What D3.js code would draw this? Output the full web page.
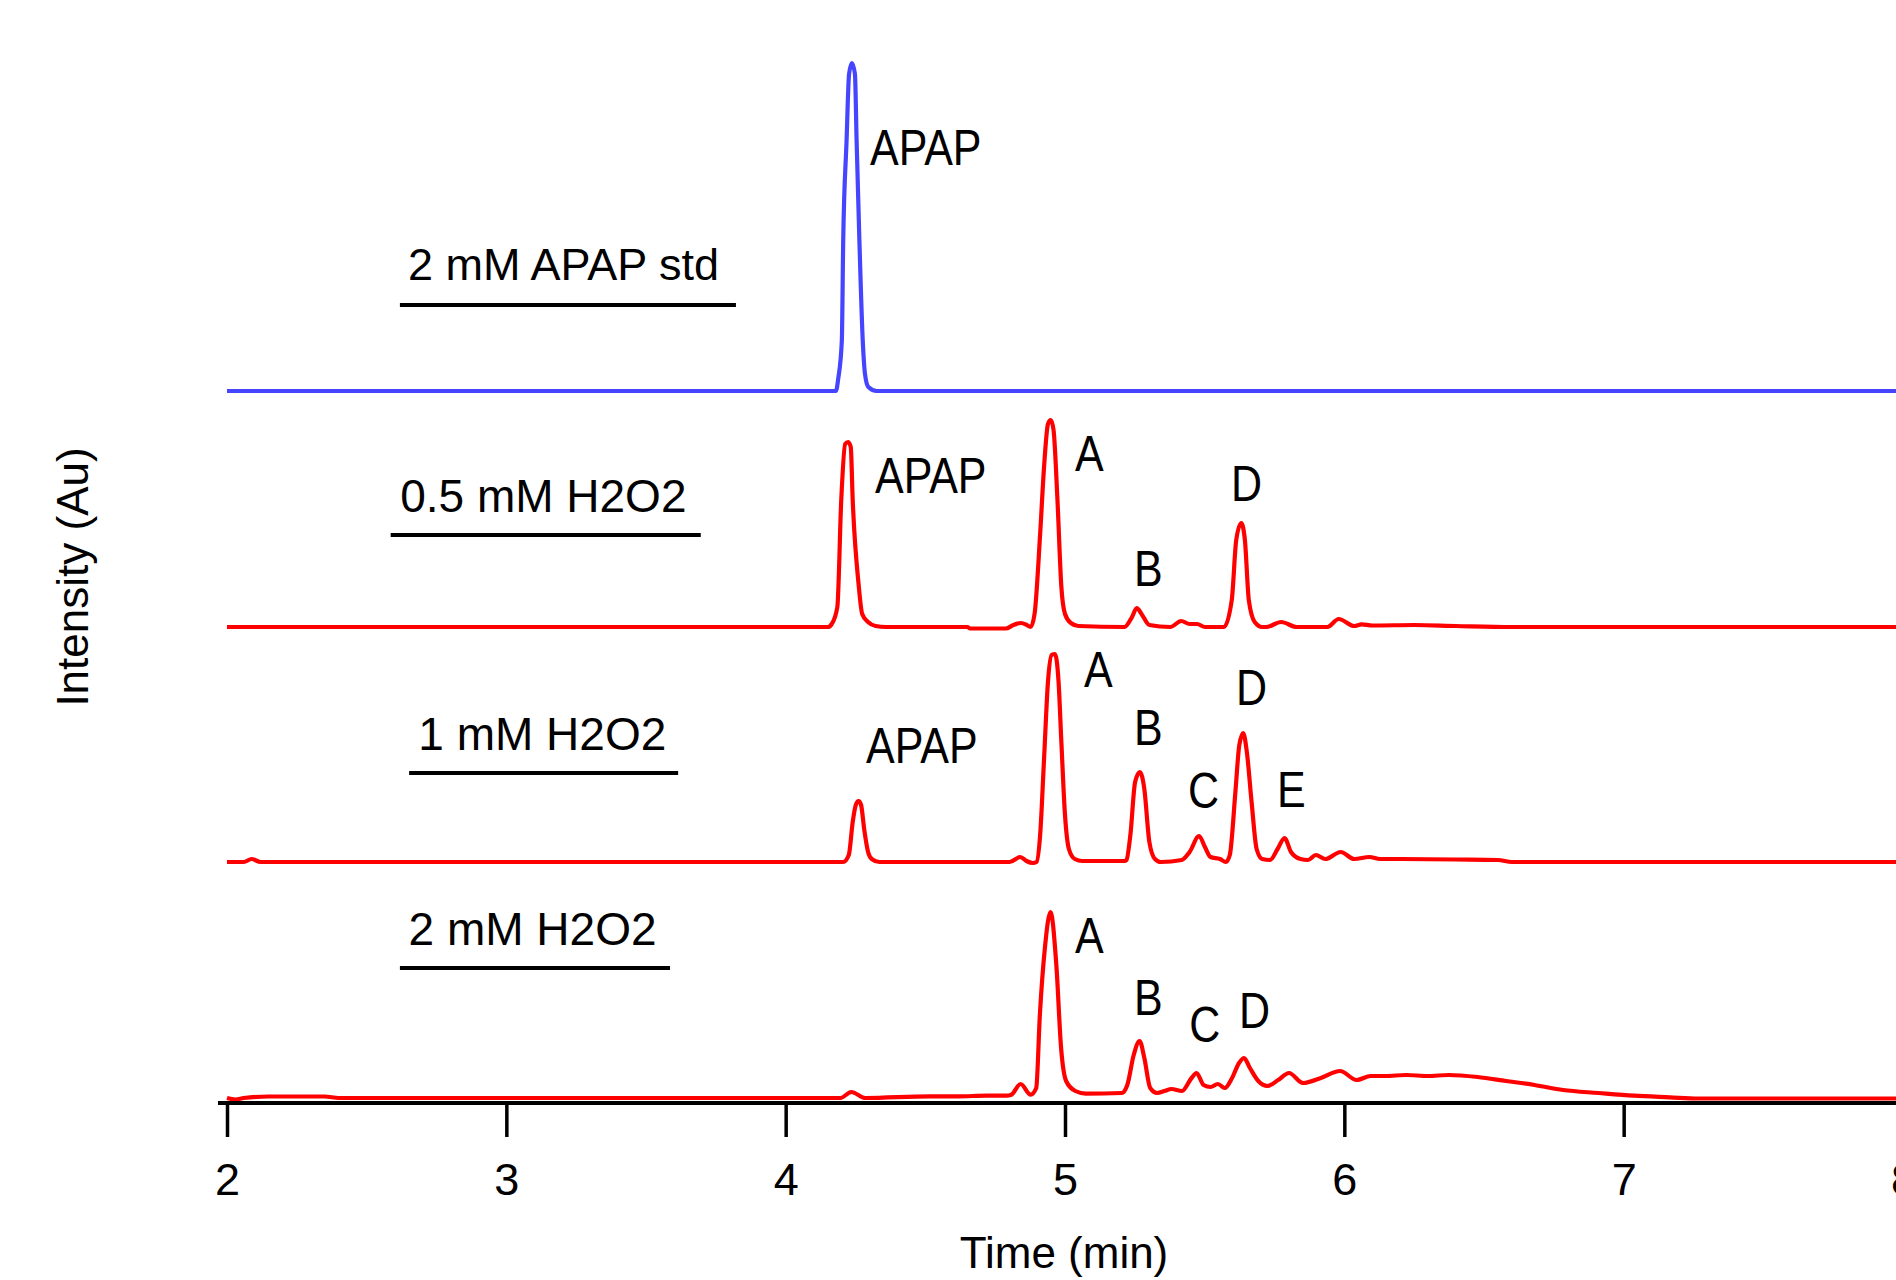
<!DOCTYPE html>
<html>
<head>
<meta charset="utf-8">
<script src="https://cdn.jsdelivr.net/npm/d3@7"></script>
<style>
  body { margin: 0; background: #fff; }
  svg { display: block; font-family: "Liberation Sans", Arial, sans-serif; }
</style>
</head>
<body>
<svg id="chart" width="1896" height="1280"></svg>
<script>
// time axis
const timeTicks = [2, 3, 4, 5, 6, 7, 8];

// chromatograms: [time (min), intensity above own baseline (Au)]
const stdTrace = [[2.0,0],[4.180,0],[4.188,12],[4.201,50],[4.206,150],[4.218,250],[4.227,317],[4.237,328],[4.248,317],[4.254,250],[4.264,150],[4.276,50],[4.284,17],[4.296,4],[4.326,0],[8.1,0]];

const h2o2_05 = [[2.0,0],[4.151,0],[4.165,3],[4.185,20],[4.199,127],[4.213,183],[4.224,185],[4.233,180],[4.240,127],[4.261,43],[4.274,13],[4.295,5],[4.322,1],[4.36,0],[4.651,0],[4.660,-1.5],[4.788,-1.5],[4.815,2],[4.843,4],[4.863,2],[4.877,0],[4.891,13],[4.911,93],[4.925,160],[4.939,203],[4.949,207],[4.959,197],[4.973,127],[4.987,40],[5.000,13],[5.021,4],[5.048,1],[5.213,0],[5.240,10],[5.257,19],[5.274,13],[5.302,2],[5.377,0],[5.416,6],[5.446,3],[5.473,3],[5.501,0],[5.569,0],[5.597,27],[5.613,87],[5.631,104],[5.644,87],[5.658,27],[5.679,5],[5.706,0],[5.720,0],[5.774,5],[5.829,0],[5.939,0],[5.980,8],[6.035,1],[6.062,2.7],[6.1,1.5],[6.25,2],[6.4,1],[6.6,0],[8.1,0]];

const h2o2_1 = [[2.0,0],[2.06,0],[2.088,3],[2.12,0],[4.206,0],[4.226,7],[4.240,40],[4.251,57],[4.261,61],[4.270,57],[4.281,33],[4.295,10],[4.308,3],[4.336,0],[4.802,0],[4.840,5],[4.862,1],[4.885,-1],[4.898,0],[4.911,27],[4.925,103],[4.939,180],[4.952,207],[4.964,208],[4.977,180],[4.987,120],[5.000,47],[5.014,13],[5.035,3],[5.062,1],[5.213,1],[5.220,2],[5.234,27],[5.251,80],[5.268,90],[5.284,73],[5.302,20],[5.322,3],[5.343,0],[5.418,2],[5.446,10],[5.480,26],[5.501,15],[5.521,5],[5.555,3],[5.576,0],[5.590,7],[5.610,70],[5.624,117],[5.638,129],[5.651,110],[5.668,60],[5.686,13],[5.706,3],[5.734,2],[5.761,13],[5.786,24],[5.809,10],[5.843,3],[5.870,2],[5.898,7],[5.932,3],[5.987,10],[6.035,3],[6.090,5],[6.128,3],[6.2,3],[6.4,2.5],[6.55,2],[6.6,0],[8.1,0]];

const h2o2_2 = [[2.0,0],[2.03,-1.5],[2.06,0],[2.15,1.5],[2.35,1.5],[2.4,0],[4.196,0],[4.235,6],[4.285,0],[4.515,1.7],[4.617,1.7],[4.719,2.3],[4.790,2.3],[4.808,3.3],[4.841,14],[4.877,3.3],[4.897,10],[4.910,83],[4.928,150],[4.948,186],[4.969,133],[4.986,50],[5.004,17],[5.037,7],[5.075,4.3],[5.203,5],[5.223,13],[5.246,43],[5.267,57],[5.284,40],[5.305,10],[5.330,5],[5.356,7],[5.381,9],[5.419,7],[5.453,20],[5.471,25],[5.496,13],[5.521,11],[5.547,14],[5.572,10],[5.598,20],[5.623,35],[5.641,40],[5.662,30],[5.692,17],[5.725,12],[5.763,18],[5.802,25],[5.852,15],[5.916,20],[5.985,27],[6.044,18],[6.094,22],[6.146,22],[6.222,23],[6.299,22],[6.375,23],[6.477,21],[6.579,17],[6.681,13],[6.783,8],[6.910,5],[7.037,2.3],[7.165,0.7],[7.267,-0.5],[8.1,-0.5]];

const sampleNames = ["2 mM APAP std", "0.5 mM H2O2", "1 mM H2O2", "2 mM H2O2"];
const sampleTraces = [stdTrace, h2o2_05, h2o2_1, h2o2_2];
const sampleOffsets = [712, 476, 241, 5];
const sampleColors = ["#4545ff", "#ff0000", "#ff0000", "#ff0000"];

// sample name labels: [time at text start, intensity of baseline], underline [t0, t1, intensity]
const nameLabelPos = [[2.648, 823], [2.620, 591], [2.685, 353], [2.650, 158]];
const nameUnderline = [[2.619, 3.822, 798], [2.586, 3.696, 568], [2.652, 3.615, 330], [2.619, 3.586, 135]];
const nameFontSize = [45, 46, 46, 46];

// peak labels: [text, time, absolute intensity]
const peakLabels = [
  ["APAP", 4.302, 938],
  ["APAP", 4.320, 610], ["A", 5.036, 632], ["B", 5.247, 517], ["D", 5.594, 602],
  ["APAP", 4.288, 340], ["A", 5.068, 416], ["B", 5.247, 358], ["C", 5.440, 295], ["D", 5.612, 398], ["E", 5.759, 296],
  ["A", 5.036, 150], ["B", 5.247, 88], ["C", 5.445, 61], ["D", 5.623, 75]
];

const width = 1896, height = 1280;
const svg = d3.select("#chart");

const x = d3.scaleLinear().domain([2, 8]).range([227, 1903]);
const y = d3.scaleLinear().domain([0, 1100]).range([1103, 3]);

// traces
sampleTraces.forEach((trace, i) => {
  const line = d3.line()
    .x(d => x(d[0]))
    .y(d => y(d[1] + sampleOffsets[i]))
    .curve(d3.curveMonotoneX);
  svg.append("path")
    .datum(trace)
    .attr("d", line)
    .attr("fill", "none")
    .attr("stroke", sampleColors[i])
    .attr("stroke-width", 4.2)
    .attr("stroke-linejoin", "round");
});

// sample names with underline
sampleNames.forEach((name, i) => {
  svg.append("text")
    .attr("x", x(nameLabelPos[i][0]))
    .attr("y", y(nameLabelPos[i][1]))
    .attr("font-size", nameFontSize[i])
    .attr("fill", "#000")
    .text(name);
  svg.append("line")
    .attr("x1", x(nameUnderline[i][0]))
    .attr("x2", x(nameUnderline[i][1]))
    .attr("y1", y(nameUnderline[i][2]))
    .attr("y2", y(nameUnderline[i][2]))
    .attr("stroke", "#000")
    .attr("stroke-width", 4);
});

// peak labels (slightly tall lettering)
peakLabels.forEach(p => {
  svg.append("text")
    .attr("transform", `translate(${x(p[1])},${y(p[2])}) scale(1,1.17)`)
    .attr("font-size", 43)
    .attr("fill", "#000")
    .text(p[0]);
});

// x axis
const axis = svg.append("g")
  .attr("transform", `translate(0,${y(0)})`)
  .call(d3.axisBottom(x).tickValues(timeTicks).tickFormat(d3.format("d"))
    .tickSize(34).tickPadding(26).tickSizeOuter(0));
axis.select(".domain").remove();
axis.selectAll(".tick line").attr("stroke", "#000").attr("stroke-width", 3.5);
axis.selectAll(".tick text")
  .attr("fill", "#000")
  .attr("font-size", 45)
  .attr("font-family", "Liberation Sans, Arial, sans-serif");
svg.append("line")
  .attr("x1", x(2) - 9).attr("x2", width)
  .attr("y1", y(0)).attr("y2", y(0))
  .attr("stroke", "#000").attr("stroke-width", 4);

// axis titles
svg.append("text")
  .attr("x", 1064).attr("y", 1268)
  .attr("text-anchor", "middle")
  .attr("font-size", 44)
  .text("Time (min)");

svg.append("text")
  .attr("transform", "translate(88,577) rotate(-90)")
  .attr("text-anchor", "middle")
  .attr("font-size", 44)
  .text("Intensity (Au)");
</script>
</body>
</html>
